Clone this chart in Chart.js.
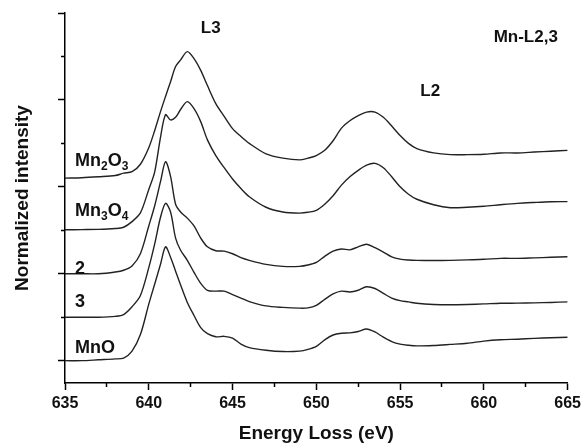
<!DOCTYPE html>
<html>
<head>
<meta charset="utf-8">
<script src="https://cdn.jsdelivr.net/npm/chart.js@4.4.0/dist/chart.umd.min.js"></script>
<style>
  html, body { margin: 0; padding: 0; background: #fff; }
  #wrap { width: 585px; height: 445px; }
</style>
</head>
<body>
<div id="wrap"><canvas id="myChart" width="585" height="445"></canvas></div>
<script>
// energy loss grid (eV)
const energy = [635, 636, 637, 638, 638.5, 639, 639.5, 640, 640.35, 640.7, 641, 641.3, 641.6, 641.9,
  642.3, 642.7, 643.1, 643.5, 644, 644.5, 645, 645.5, 646, 647, 648, 649, 649.5, 650,
  650.5, 651, 651.5, 652, 652.5, 653, 653.5, 654, 654.5, 655, 655.5, 656,
  657, 658, 659, 660, 661, 662, 663, 664, 665];

// stacked spectra (normalized intensity incl. vertical offset)
const mnO = [0.00, 0.00, 0.01, 0.02, 0.03, 0.11, 0.30, 0.65, 0.88, 1.11, 1.31, 1.19, 1.03, 0.87,
  0.67, 0.52, 0.38, 0.31, 0.275, 0.28, 0.26, 0.19, 0.15, 0.12, 0.105, 0.11, 0.13, 0.165,
  0.24, 0.295, 0.315, 0.32, 0.335, 0.365, 0.33, 0.27, 0.22, 0.19, 0.177, 0.17,
  0.175, 0.187, 0.20, 0.225, 0.24, 0.247, 0.256, 0.264, 0.27];
const sample3 = [0.50, 0.50, 0.50, 0.51, 0.53, 0.62, 0.75, 1.07, 1.34, 1.65, 1.81, 1.71, 1.41, 1.27,
  1.155, 1.016, 0.89, 0.81, 0.80, 0.80, 0.76, 0.72, 0.68, 0.63, 0.613, 0.604, 0.607, 0.636,
  0.705, 0.768, 0.80, 0.79, 0.81, 0.85, 0.83, 0.774, 0.72, 0.69, 0.676, 0.66,
  0.647, 0.644, 0.647, 0.653, 0.66, 0.662, 0.665, 0.67, 0.676];
const sample2 = [1.00, 1.00, 1.00, 1.02, 1.04, 1.09, 1.23, 1.55, 1.78, 2.06, 2.29, 2.12, 1.80, 1.71,
  1.64, 1.55, 1.41, 1.31, 1.265, 1.26, 1.23, 1.185, 1.154, 1.108, 1.085, 1.085, 1.10, 1.13,
  1.20, 1.26, 1.285, 1.275, 1.31, 1.34, 1.30, 1.25, 1.195, 1.168, 1.158, 1.154,
  1.152, 1.154, 1.16, 1.166, 1.177, 1.177, 1.183, 1.189, 1.195];
const mn3O4 = [1.506, 1.508, 1.51, 1.52, 1.535, 1.60, 1.70, 1.97, 2.17, 2.57, 2.83, 2.77, 2.80, 2.89,
  2.98, 2.90, 2.75, 2.54, 2.36, 2.22, 2.09, 1.98, 1.886, 1.765, 1.71, 1.698, 1.707, 1.73,
  1.80, 1.898, 2.02, 2.116, 2.19, 2.25, 2.27, 2.22, 2.116, 2.00, 1.915, 1.857,
  1.794, 1.76, 1.765, 1.776, 1.794, 1.81, 1.82, 1.828, 1.83];
const mn2O3 = [2.10, 2.105, 2.116, 2.13, 2.157, 2.174, 2.26, 2.45, 2.646, 2.865, 3.04, 3.21, 3.384, 3.46,
  3.556, 3.475, 3.34, 3.165, 2.957, 2.81, 2.67, 2.58, 2.50, 2.38, 2.33, 2.31, 2.33, 2.36,
  2.42, 2.53, 2.675, 2.76, 2.82, 2.86, 2.86, 2.80, 2.70, 2.59, 2.50, 2.44,
  2.39, 2.37, 2.37, 2.375, 2.39, 2.39, 2.40, 2.41, 2.42];

// axis ticks
const xMajor = [635, 640, 645, 650, 655, 660, 665];
const xMinor = [637.5, 642.5, 647.5, 652.5, 657.5, 662.5];
const yMajor = [0, 1, 2, 3, 4];
const yMinor = [0.5, 1.5, 2.5, 3.5];
const yMin = -0.257, yMax = 4;

// curve labels: [text, subscript] pieces, anchored in data coords
const seriesLabels = [
  { parts: [['Mn', 0], ['2', 1], ['O', 0], ['3', 1]], x: 635.6, y: 2.235 },
  { parts: [['Mn', 0], ['3', 1], ['O', 0], ['4', 1]], x: 635.6, y: 1.66 },
  { parts: [['2', 0]], x: 635.6, y: 0.995 },
  { parts: [['3', 0]], x: 635.6, y: 0.62 },
  { parts: [['MnO', 0]], x: 635.6, y: 0.085 }
];
const edgeLabels = [
  { text: 'L3', x: 643.7, y: 3.775 },
  { text: 'L2', x: 656.8, y: 3.04 },
  { text: 'Mn-L2,3', x: 662.5, y: 3.67 }
];

const FONT = '"Liberation Sans", Arial, sans-serif';
Chart.defaults.font.family = FONT;

const lineStyle = {
  borderColor: '#222',
  borderWidth: 1.4,
  pointRadius: 0,
  fill: false,
  tension: 0.3
};
const series = [mnO, sample3, sample2, mn3O4, mn2O3];
const datasets = series.map(s => ({
  ...lineStyle,
  data: energy.map((e, i) => ({ x: e, y: s[i] }))
}));

const labelPlugin = {
  id: 'curveLabels',
  afterDatasetsDraw(chart) {
    const ctx = chart.ctx;
    const xs = chart.scales.x, ys = chart.scales.y;
    ctx.save();
    ctx.fillStyle = '#111';
    ctx.textBaseline = 'alphabetic';
    seriesLabels.forEach(l => {
      let px = xs.getPixelForValue(l.x);
      const py = ys.getPixelForValue(l.y);
      l.parts.forEach(([t, sub]) => {
        ctx.font = sub ? 'bold 12px ' + FONT : 'bold 18px ' + FONT;
        ctx.textAlign = 'left';
        ctx.fillText(t, px, py + (sub ? 4 : 0));
        px += ctx.measureText(t).width;
      });
    });
    ctx.font = 'bold 17px ' + FONT;
    ctx.textAlign = 'center';
    edgeLabels.forEach(l => {
      ctx.fillText(l.text, xs.getPixelForValue(l.x), ys.getPixelForValue(l.y));
    });
    ctx.restore();
  }
};

const config = {
  type: 'line',
  data: { datasets },
  options: {
    responsive: false,
    animation: false,
    layout: { padding: { top: 13, right: 15, left: 0, bottom: 0 } },
    plugins: { legend: { display: false }, tooltip: { enabled: false } },
    scales: {
      x: {
        type: 'linear', min: 635, max: 665,
        afterBuildTicks: a => { a.ticks = xMajor.map(v => ({ value: v })); },
        afterFit: a => { a.height = 62; },
        grid: { drawOnChartArea: false, tickLength: 7, tickColor: '#000', tickWidth: 1.5 },
        border: { color: '#000', width: 1.5 },
        ticks: { color: '#111', font: { size: 16, weight: 'bold' }, padding: 4, maxRotation: 0, autoSkip: false },
        title: { display: true, text: 'Energy Loss (eV)', color: '#111', font: { size: 19, weight: 'bold' }, padding: { top: 4, bottom: 0 } }
      },
      y: {
        type: 'linear', min: yMin, max: yMax,
        afterBuildTicks: a => { a.ticks = yMajor.map(v => ({ value: v })); },
        afterFit: a => { a.width = 65; },
        grid: { drawOnChartArea: false, tickLength: 7, tickColor: '#000', tickWidth: 1.5 },
        border: { color: '#000', width: 1.5 },
        ticks: { display: false },
        title: { display: true, text: 'Normalized intensity', color: '#111', font: { size: 19, weight: 'bold' }, padding: { top: 11, bottom: 0 } }
      },
      x2: {
        axis: 'x', type: 'linear', min: 635, max: 665, position: { y: yMin },
        afterBuildTicks: a => { a.ticks = xMinor.map(v => ({ value: v })); },
        grid: { drawOnChartArea: false, tickLength: 4, tickColor: '#000', tickWidth: 1.5 },
        border: { display: false },
        ticks: { display: false }
      },
      y2: {
        axis: 'y', type: 'linear', min: yMin, max: yMax, position: { x: 635 },
        afterBuildTicks: a => { a.ticks = yMinor.map(v => ({ value: v })); },
        grid: { drawOnChartArea: false, tickLength: 4, tickColor: '#000', tickWidth: 1.5 },
        border: { display: false },
        ticks: { display: false }
      }
    }
  },
  plugins: [labelPlugin]
};

const myChart = new Chart(document.getElementById('myChart'), config);
</script>
</body>
</html>
